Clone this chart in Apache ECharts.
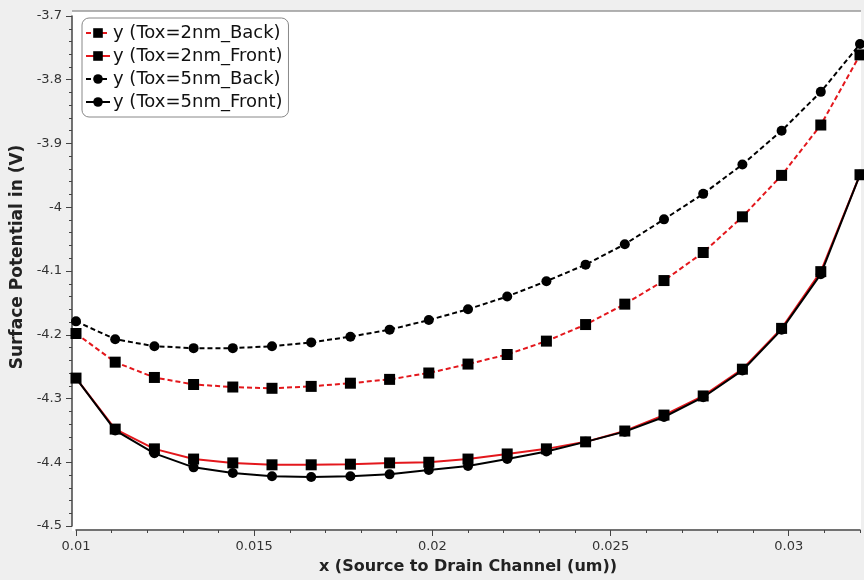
<!DOCTYPE html>
<html>
<head>
<meta charset="utf-8">
<script src="https://cdn.jsdelivr.net/npm/echarts@6/dist/echarts.min.js"></script>
<style>
  html, body { margin: 0; padding: 0; background: #efefef; }
  #chart { width: 864px; height: 580px; }
</style>
</head>
<body>
<div id="chart"></div>
<script>
// x positions along the channel (um)
var xValues = [0.01, 0.0111, 0.0122, 0.0133, 0.0144, 0.0155, 0.0166, 0.0177, 0.0188, 0.0199,
  0.021, 0.0221, 0.0232, 0.0243, 0.0254, 0.0265, 0.0276, 0.0287, 0.0298, 0.0309, 0.032];

var tox2Back = [-4.198, -4.243, -4.267, -4.278, -4.282, -4.284, -4.281, -4.276, -4.270, -4.260,
  -4.246, -4.231, -4.210, -4.184, -4.152, -4.115, -4.071, -4.015, -3.950, -3.871, -3.761];
var tox2Front = [-4.268, -4.348, -4.379, -4.395, -4.401, -4.404, -4.404, -4.403, -4.401, -4.400,
  -4.395, -4.387, -4.379, -4.368, -4.351, -4.326, -4.296, -4.254, -4.190, -4.101, -3.949];
var tox5Back = [-4.179, -4.207, -4.218, -4.221, -4.221, -4.218, -4.212, -4.203, -4.192, -4.177,
  -4.160, -4.140, -4.116, -4.090, -4.058, -4.019, -3.979, -3.933, -3.880, -3.819, -3.744];
var tox5Front = [-4.268, -4.350, -4.386, -4.408, -4.417, -4.422, -4.423, -4.422, -4.419, -4.412,
  -4.406, -4.395, -4.383, -4.368, -4.352, -4.329, -4.298, -4.256, -4.192, -4.105, -3.949];

var seriesNames = ['y (Tox=2nm_Back)', 'y (Tox=2nm_Front)', 'y (Tox=5nm_Back)', 'y (Tox=5nm_Front)'];
var xMajorTicks = [0.01, 0.015, 0.02, 0.025, 0.03];

function pairs(ys) {
  return xValues.map(function (x, i) { return [x, ys[i]]; });
}

var RED = '#e3171c';
var FONT = 'DejaVu Sans';

var chart = echarts.init(document.getElementById('chart'));

function makeSeries(name, ys, color, dashed, symbol) {
  return {
    name: name,
    type: 'line',
    data: pairs(ys),
    symbol: symbol,
    symbolSize: symbol === 'rect' ? 11 : 10,
    showAllSymbol: true,
    lineStyle: { color: color, width: 2, type: dashed ? [5, 3] : 'solid' },
    itemStyle: { color: '#000', borderWidth: 0 },
    emphasis: { disabled: true },
    animation: false
  };
}

var option = {
  backgroundColor: '#efefef',
  animation: false,
  graphic: [
    { type: 'rect', z: -10, shape: { x: 72, y: 11, width: 789, height: 520 }, style: { fill: '#fff' } },
    { type: 'line', z: -9, shape: { x1: 72, y1: 11, x2: 861, y2: 11 }, style: { stroke: '#999', lineWidth: 1.5 } }
  ],
  grid: { left: 76, right: 4, top: 16, bottom: 53 },
  legend: {
    orient: 'vertical',
    left: 82,
    top: 18,
    data: seriesNames,
    backgroundColor: '#fff',
    borderColor: '#888',
    borderWidth: 1,
    borderRadius: 7,
    padding: [6, 6, 6, 3],
    itemWidth: 24,
    itemHeight: 12,
    itemGap: 5,
    textStyle: { fontFamily: FONT, fontSize: 18, color: '#111', padding: [0, 0, 0, -2] }
  },
  xAxis: [
    {
      type: 'value',
      min: 0.01,
      max: 0.032,
      interval: 0.001,
      offset: 4,
      name: 'x (Source to Drain Channel (um))',
      nameLocation: 'middle',
      nameGap: 29,
      nameTextStyle: { fontFamily: FONT, fontSize: 16, fontWeight: 'bold', color: '#222' },
      axisLine: { onZero: false, lineStyle: { color: '#444', width: 1.5 } },
      axisTick: { show: true, inside: false, length: 3, lineStyle: { color: '#444' } },
      axisLabel: {
        fontFamily: FONT, fontSize: 13, color: '#333', margin: 10,
        formatter: function (v) {
          for (var i = 0; i < xMajorTicks.length; i++) {
            if (Math.abs(v - xMajorTicks[i]) < 1e-9) return String(xMajorTicks[i]);
          }
          return '';
        }
      },
      splitLine: { show: false }
    },
    {
      type: 'value',
      min: 0.01,
      max: 0.032,
      position: 'bottom',
      offset: 4,
      axisLine: { show: false, onZero: false },
      axisTick: { show: true, length: 6, customValues: xMajorTicks, lineStyle: { color: '#444' } },
      axisLabel: { show: false },
      splitLine: { show: false }
    }
  ],
  yAxis: {
    type: 'value',
    min: -4.5,
    max: -3.7,
    interval: 0.1,
    offset: 4,
    name: 'Surface Potential in (V)',
    nameLocation: 'middle',
    nameGap: 44,
    nameTextStyle: { fontFamily: FONT, fontSize: 17, fontWeight: 'bold', color: '#222', padding: [0, 0, 0, 28] },
    axisLine: { show: true, onZero: false, lineStyle: { color: '#444', width: 1.5 } },
    axisTick: { show: true, length: 6, lineStyle: { color: '#444' } },
    minorTick: { show: true, splitNumber: 5, length: 3, lineStyle: { color: '#444' } },
    axisLabel: { fontFamily: FONT, fontSize: 13, color: '#333', margin: 10 },
    splitLine: { show: false }
  },
  series: [
    makeSeries(seriesNames[0], tox2Back, RED, true, 'rect'),
    makeSeries(seriesNames[2], tox5Back, '#000', true, 'circle'),
    makeSeries(seriesNames[1], tox2Front, RED, false, 'rect'),
    makeSeries(seriesNames[3], tox5Front, '#000', false, 'circle')
  ]
};

chart.setOption(option);
</script>
</body>
</html>
